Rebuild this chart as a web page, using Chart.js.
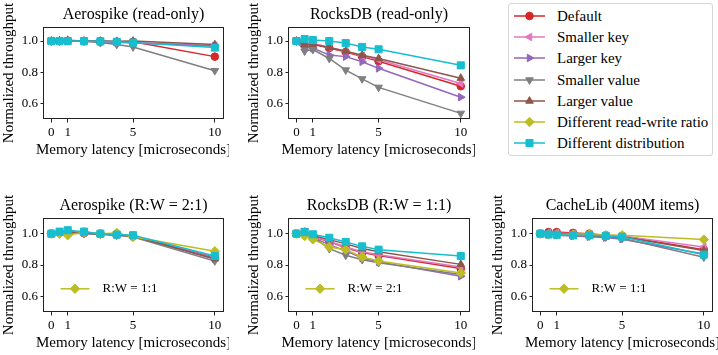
<!DOCTYPE html>
<html>
<head>
<meta charset="utf-8">
<script src="https://cdn.jsdelivr.net/npm/chart.js@4/dist/chart.umd.min.js"></script>
<style>
  html, body { margin: 0; padding: 0; background: #fff; }
  #fig { position: relative; width: 718px; height: 355px; overflow: hidden; font-family: "Liberation Serif", serif; color: #000; }
  #fig canvas { position: absolute; }
  #legend { position: absolute; left: 508px; top: 3px; width: 203px; height: 151px; border: 1px solid #d6d6d6; border-radius: 3px; }
  #legend .row { position: absolute; left: 0; width: 200px; height: 20px; }
  #legend .row canvas { left: 4px; top: 3px; }
  #legend .row span { position: absolute; left: 48px; top: 0; line-height: 20px; font-size: 15px; font-family: "Liberation Serif", serif; white-space: nowrap; }
</style>
</head>
<body>
<div id="fig">
  <div id="legend"></div>
</div>
<script>
// x values (memory latency, microseconds) and axis ticks
const latency = [0, 0.5, 1, 2, 3, 4, 5, 10];
const xTicks = [0, 1, 5, 10];
const yTicks = [0.6, 0.8, 1.0];

const seriesNames = ['Default', 'Smaller key', 'Larger key', 'Smaller value', 'Larger value', 'Different read-write ratio', 'Different distribution'];

// normalized throughput, one row per series (null = series not shown in that panel)
const aerospikeReadOnly = [
  [1.0, 1.0, 1.0, 1.0, 0.998, 0.995, 0.995, 0.90],
  [1.0, 1.0, 1.0, 0.998, 0.997, 0.993, 0.99, 0.97],
  [1.0, 1.0, 1.0, 0.998, 0.996, 0.992, 0.988, 0.968],
  [1.0, 1.0, 1.003, 0.998, 0.99, 0.978, 0.962, 0.81],
  [1.0, 1.002, 1.005, 1.0, 1.0, 0.998, 1.0, 0.977],
  null,
  [1.0, 1.0, 1.0, 1.0, 0.998, 0.995, 0.99, 0.958]
];
const rocksdbReadOnly = [
  [1.0, 0.98, 0.98, 0.955, 0.93, 0.90, 0.87, 0.71],
  [1.0, 0.985, 0.985, 0.96, 0.935, 0.905, 0.88, 0.728],
  [1.0, 0.96, 0.955, 0.91, 0.90, 0.867, 0.825, 0.64],
  [1.0, 0.935, 0.945, 0.888, 0.814, 0.757, 0.703, 0.536],
  [1.0, 0.977, 0.98, 0.958, 0.935, 0.909, 0.888, 0.762],
  null,
  [1.0, 1.013, 1.006, 1.0, 0.987, 0.962, 0.947, 0.844]
];
const aerospikeRW21 = [
  [1.0, 1.005, 1.01, 1.005, 1.0, 0.995, 0.985, 0.848],
  [1.0, 1.005, 1.01, 1.003, 0.998, 0.993, 0.985, 0.845],
  [1.0, 1.005, 1.01, 1.003, 0.998, 0.992, 0.982, 0.838],
  [1.0, 1.0, 1.005, 1.0, 0.995, 0.99, 0.978, 0.826],
  [1.0, 1.005, 1.01, 1.005, 0.998, 0.993, 0.985, 0.84],
  [1.0, 1.0, 0.99, 1.01, 1.0, 1.005, 0.98, 0.888],
  [1.0, 1.013, 1.022, 1.013, 1.0, 0.994, 0.99, 0.857]
];
const rocksdbRW11 = [
  [1.0, 1.0, 0.98, 0.95, 0.91, 0.88, 0.86, 0.777],
  [1.0, 1.0, 0.982, 0.952, 0.915, 0.885, 0.865, 0.787],
  [1.0, 0.995, 0.975, 0.93, 0.89, 0.845, 0.82, 0.728],
  [1.0, 1.02, 0.98, 0.904, 0.862, 0.834, 0.815, 0.74],
  [1.0, 1.01, 0.988, 0.962, 0.935, 0.905, 0.885, 0.804],
  [1.0, 0.985, 0.964, 0.915, 0.898, 0.851, 0.826, 0.749],
  [1.0, 1.01, 0.996, 0.974, 0.947, 0.919, 0.898, 0.857]
];
const cachelib400M = [
  [1.0, 1.01, 1.01, 1.005, 1.0, 0.99, 0.985, 0.898],
  [1.0, 1.005, 1.005, 1.0, 0.998, 0.99, 0.985, 0.915],
  [1.0, 0.995, 0.99, 0.985, 0.98, 0.975, 0.965, 0.87],
  [1.0, 0.998, 0.995, 0.99, 0.985, 0.978, 0.97, 0.85],
  [1.0, 1.0, 1.0, 0.995, 0.99, 0.985, 0.98, 0.893],
  [1.0, 0.995, 0.995, 0.995, 0.995, 0.99, 0.99, 0.962],
  [1.0, 0.995, 0.993, 0.99, 0.99, 0.985, 0.98, 0.866]
];

// styling (matplotlib tab10 look)
const colors = ['#d62728', '#e377c2', '#9467bd', '#7f7f7f', '#8c564b', '#bcbd22', '#17becf'];
const markers = ['circle', 'triangle', 'triangle', 'triangle', 'triangle', 'rectRot', 'rect'];
const markerRot = [0, -90, 90, 180, 0, 0, 0];
const markerSize = [3.8, 4.4, 4.4, 4.4, 4.4, 4.7, 5];

const FONT = '"Liberation Serif", serif';
const X_LABEL = 'Memory latency [microseconds]';
const Y_LABEL = 'Normalized throughput';

const panels = [
  { title: 'Aerospike (read-only)', data: aerospikeReadOnly, box: [44, 27, 223, 119], yMax: 1.09, note: null },
  { title: 'RocksDB (read-only)', data: rocksdbReadOnly, box: [289, 27, 469, 119], yMax: 1.09, note: null },
  { title: 'Aerospike (R:W = 2:1)', data: aerospikeRW21, box: [44, 218, 223, 312], yMax: 1.1, note: 'R:W = 1:1' },
  { title: 'RocksDB (R:W = 1:1)', data: rocksdbRW11, box: [289, 218, 469, 312], yMax: 1.1, note: 'R:W = 2:1' },
  { title: 'CacheLib (400M items)', data: cachelib400M, box: [533, 218, 712, 312], yMax: 1.1, note: 'R:W = 1:1' }
];

Chart.defaults.color = '#000';
Chart.defaults.font.family = FONT;

// axes frame on all four sides, title and x label centred on the axes box
// (Chart.js would squeeze an x title wider than the axis, so it is drawn here)
const framePlugin = {
  id: 'frame',
  afterDraw(chart, args, opts) {
    const { ctx, chartArea: a } = chart;
    const cx = (a.left + a.right) / 2;
    ctx.save();
    ctx.strokeStyle = '#222';
    ctx.lineWidth = 1;
    ctx.strokeRect(Math.round(a.left) - 0.5, Math.round(a.top) + 0.5, Math.round(a.right - a.left) + 1, Math.round(a.bottom - a.top) - 1);
    ctx.fillStyle = '#000';
    ctx.textAlign = 'center';
    ctx.textBaseline = 'alphabetic';
    ctx.font = '16px ' + FONT;
    ctx.fillText(opts.title, cx, a.top - 8.5);
    ctx.font = '15px ' + FONT;
    ctx.fillText(X_LABEL, cx, a.bottom + 34.5);
    ctx.restore();
  }
};

// the small in-axes legend for the read-write ratio series
const notePlugin = {
  id: 'note',
  afterDraw(chart, args, opts) {
    if (!opts.text) return;
    const { ctx, chartArea: a } = chart;
    const y = a.top + 70.8;
    const x0 = a.left + 16.5;
    ctx.save();
    ctx.strokeStyle = colors[5];
    ctx.fillStyle = colors[5];
    ctx.lineWidth = 1.5;
    ctx.beginPath();
    ctx.moveTo(x0, y);
    ctx.lineTo(x0 + 29, y);
    ctx.stroke();
    ctx.lineWidth = 1;
    Chart.helpers.drawPoint(ctx, { pointStyle: 'rectRot', radius: markerSize[5], rotation: 0, borderWidth: 1 }, x0 + 14.5, y);
    ctx.fillStyle = '#000';
    ctx.font = '13px ' + FONT;
    ctx.textBaseline = 'middle';
    ctx.textAlign = 'left';
    ctx.fillText(opts.text, a.left + 58.5, y);
    ctx.restore();
  }
};

function makeChart(p) {
  const [L, T, R, B] = p.box;
  const canvas = document.createElement('canvas');
  canvas.width = R - L + 50;
  canvas.height = B - T + 68;
  canvas.style.left = (L - 44) + 'px';
  canvas.style.top = (T - 27) + 'px';
  document.getElementById('fig').appendChild(canvas);

  const datasets = [];
  p.data.forEach((vals, i) => {
    if (!vals) return;
    datasets.push({
      label: seriesNames[i],
      data: latency.map((x, k) => ({ x: x, y: vals[k] })),
      borderColor: colors[i],
      backgroundColor: colors[i],
      borderWidth: 1.5,
      pointStyle: markers[i],
      pointRotation: markerRot[i],
      pointRadius: markerSize[i],
      pointBorderWidth: 1,
      pointBorderColor: colors[i],
      pointBackgroundColor: colors[i],
      tension: 0,
      order: 7 - i
    });
  });

  new Chart(canvas, {
    type: 'line',
    data: { datasets: datasets },
    options: {
      responsive: false,
      animation: false,
      devicePixelRatio: 1,
      layout: { padding: { left: 0, right: 6, top: 27, bottom: 0 } },
      plugins: {
        legend: { display: false },
        tooltip: { enabled: false },
        title: { display: false },
        frame: { title: p.title },
        note: { text: p.note }
      },
      scales: {
        x: {
          type: 'linear',
          min: -0.45,
          max: 10.5,
          afterBuildTicks: s => { s.ticks = xTicks.map(v => ({ value: v })); },
          afterFit: s => { s.height = 41; },
          ticks: { autoSkip: false, maxRotation: 0, padding: 2.5, font: { family: FONT, size: 13 }, callback: v => String(v) },
          grid: { drawOnChartArea: false, drawTicks: true, tickLength: 3.5, tickColor: '#222' },
          border: { display: false },
          title: { display: false }
        },
        y: {
          min: 0.5,
          max: p.yMax,
          afterBuildTicks: s => { s.ticks = yTicks.map(v => ({ value: v })); },
          afterFit: s => { s.width = 44; },
          ticks: { autoSkip: false, padding: 2.5, font: { family: FONT, size: 13 }, callback: v => Number(v).toFixed(1) },
          grid: { drawOnChartArea: false, drawTicks: true, tickLength: 3.5, tickColor: '#222' },
          border: { display: false },
          title: { display: true, text: Y_LABEL, font: { family: FONT, size: 15 }, padding: { top: 0, bottom: 0 } }
        }
      }
    },
    plugins: [framePlugin, notePlugin]
  });
}

function buildLegend() {
  const legend = document.getElementById('legend');
  const rowCenters = [12, 33, 54.3, 75.5, 96.5, 117.7, 138.7];
  seriesNames.forEach((name, i) => {
    const row = document.createElement('div');
    row.className = 'row';
    row.style.top = (rowCenters[i] - 10) + 'px';
    const c = document.createElement('canvas');
    c.width = 34;
    c.height = 14;
    const ctx = c.getContext('2d');
    ctx.strokeStyle = colors[i];
    ctx.fillStyle = colors[i];
    ctx.lineWidth = 1.5;
    ctx.beginPath();
    ctx.moveTo(1, 7);
    ctx.lineTo(32, 7);
    ctx.stroke();
    ctx.lineWidth = 1;
    Chart.helpers.drawPoint(ctx, { pointStyle: markers[i], radius: markerSize[i], rotation: markerRot[i], borderWidth: 1 }, 16.5, 7);
    row.appendChild(c);
    const label = document.createElement('span');
    label.textContent = name;
    row.appendChild(label);
    legend.appendChild(row);
  });
}

function build() {
  panels.forEach(makeChart);
  buildLegend();
}

// make sure the serif face is ready before Chart.js measures text
Promise.all([
  document.fonts.load('13px "Liberation Serif"'),
  document.fonts.load('15px "Liberation Serif"'),
  document.fonts.load('16px "Liberation Serif"')
]).then(build, build);
</script>
</body>
</html>
